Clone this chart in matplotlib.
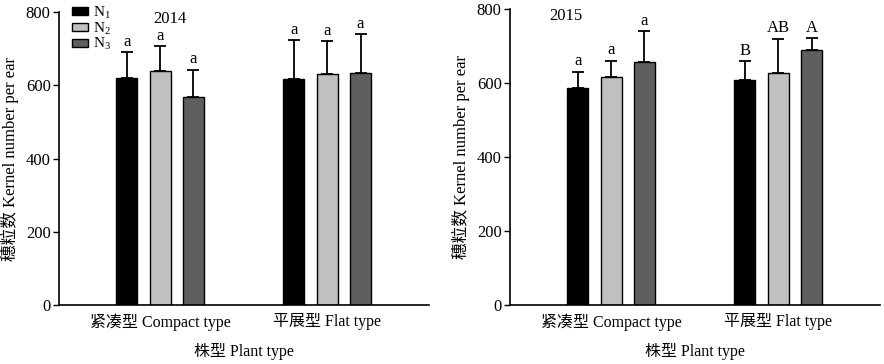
import numpy as np
import matplotlib
matplotlib.use("Agg")
import matplotlib.pyplot as plt

plt.rcParams['font.family'] = ['Liberation Serif', 'Noto Sans CJK SC']
plt.rcParams['mathtext.fontset'] = 'custom'
plt.rcParams['mathtext.rm'] = 'Liberation Serif'
plt.rcParams['mathtext.it'] = 'Liberation Serif'

categories = ["紧凑型 Compact type", "平展型 Flat type"]
series = ["N$_1$", "N$_2$", "N$_3$"]
colors = ["#000000", "#c0c0c0", "#5f5f5f"]

# 2014
mean_2014 = {"N1": [620, 616], "N2": [639, 632], "N3": [568, 633]}
err_2014 = {"N1": [70, 108], "N2": [68, 89], "N3": [75, 106]}
lab_2014 = {"N1": ["a", "a"], "N2": ["a", "a"], "N3": ["a", "a"]}
# 2015
mean_2015 = {"N1": [586, 609], "N2": [617, 626], "N3": [657, 689]}
err_2015 = {"N1": [45, 50], "N2": [44, 94], "N3": [84, 33]}
lab_2015 = {"N1": ["a", "B"], "N2": ["a", "AB"], "N3": ["a", "A"]}

fig = plt.figure(figsize=(8.84, 3.64), dpi=100)
ax1 = fig.add_axes([0.0667, 0.162, 0.4186, 0.805])
ax2 = fig.add_axes([0.5769, 0.162, 0.4186, 0.813])

x = np.arange(len(categories))
w = 0.126
off = 0.2

def panel(ax, means, errs, labs, year, yx, legend):
    for i, key in enumerate(["N1", "N2", "N3"]):
        xs = x + (i - 1) * off
        m = np.array(means[key]); e = np.array(errs[key])
        ax.bar(xs, m, width=w, color=colors[i], edgecolor="black", linewidth=1.0,
               label=series[i], zorder=2)
        ax.errorbar(xs, m, yerr=[np.zeros_like(e), e], fmt="none", ecolor="black",
                    elinewidth=1.3, capsize=4, capthick=1.3, zorder=1)
        for xi, yi, t in zip(xs, m + e, labs[key]):
            ax.text(xi, yi + 6, t, ha="center", va="bottom", fontsize=12)
    ax.set_xlim(-0.605, 1.61)
    ax.set_ylim(0, 800)
    ax.set_yticks([0, 200, 400, 600, 800])
    ax.set_xticks(x)
    ax.set_xticklabels(categories, fontsize=11.5)
    ax.tick_params(axis="x", length=0, pad=6)
    ax.tick_params(axis="y", labelsize=12, direction="out", length=4, width=1, pad=2)
    for s in ["top", "right"]:
        ax.spines[s].set_visible(False)
    for s in ["left", "bottom"]:
        ax.spines[s].set_linewidth(1.2)
    ax.set_xlabel("株型 Plant type", fontsize=11.5, labelpad=9)
    ax.set_ylabel("穗粒数 Kernel number per ear", fontsize=12, labelpad=5)
    ax.text(yx, 780, year, fontsize=12, ha="center", va="center")
    if legend:
        ax.legend(loc="upper left", bbox_to_anchor=(0.035, 1.025), frameon=False,
                  fontsize=11, handlelength=1.05, handleheight=0.45,
                  labelspacing=-0.02, handletextpad=0.35, borderpad=0,
                  borderaxespad=0)

panel(ax1, mean_2014, err_2014, lab_2014, "2014", 0.06, True)
panel(ax2, mean_2015, err_2015, lab_2015, "2015", -0.27, False)

fig.savefig("out.png", dpi=100)
